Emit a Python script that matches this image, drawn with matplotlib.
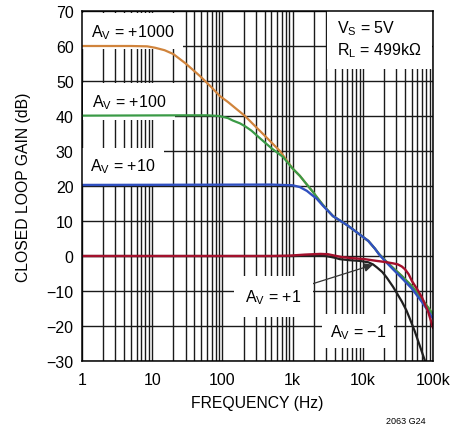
import matplotlib
matplotlib.use("Agg")
import matplotlib.pyplot as plt
from matplotlib.ticker import FixedLocator, FixedFormatter, NullFormatter

plt.rcParams['font.family'] = ['Liberation Sans', 'DejaVu Sans']
plt.rcParams['mathtext.fontset'] = 'custom'
plt.rcParams['mathtext.rm'] = 'Liberation Sans'
plt.rcParams['mathtext.it'] = 'Liberation Sans'

# closed loop gain curves (Hz, dB)
f_1000 = [1, 5, 8.5, 11, 15, 20, 30, 48, 70, 92, 120, 150, 210, 273, 400, 660, 1000, 1270,
          1600, 1950, 2200, 2700, 3760, 5900, 7700, 9100, 12000, 14900, 17000, 20700,
          27000, 36000, 50000, 70000, 100000]
g_1000 = [60, 60, 59.9, 59.5, 58.8, 57.7, 55.0, 51.4, 48.2, 45.7, 44.0, 42.4, 40.0, 37.7,
          34.4, 30.0, 25.0, 22.9, 20.4, 18.3, 16.9, 14.6, 11.4, 8.9, 7.2, 6.1, 4.3, 2.1, 0.6,
          -1.2, -3.4, -5.7, -8.6, -12.4, -16.6]

f_100 = [1, 30, 60, 90, 120, 141, 178, 213, 260, 345, 500, 730, 1000, 1270, 1600, 1950,
         2200, 2700, 3760, 5900, 7700, 9100, 12000, 14900, 17000, 20700, 27000, 36000,
         50000, 70000, 100000]
g_100 = [40.1, 40.2, 40.2, 40.0, 39.4, 38.7, 37.9, 37.0, 35.8, 33.6, 30.8, 28.3, 25.0,
         22.9, 20.4, 18.3, 16.9, 14.6, 11.4, 8.9, 7.2, 6.1, 4.3, 2.1, 0.6, -1.2, -3.4,
         -5.7, -8.6, -12.4, -16.6]

f_10 = [1, 500, 1000, 1270, 1600, 1950, 2200, 2700, 3760, 5900, 7700, 9100, 12000,
        14900, 17000, 20700, 27000, 36000, 50000, 70000, 100000]
g_10 = [20.3, 20.4, 20.2, 19.7, 18.6, 17.2, 16.4, 14.4, 11.4, 8.9, 7.2, 6.1, 4.3, 2.1,
        0.5, -1.4, -3.8, -6.3, -9.3, -13.2, -17.8]

f_p1 = [1, 100, 500, 900, 1500, 2500, 3200, 4000, 5000, 7000, 10700, 15800, 20700, 27000,
        31600, 36000, 40000, 45000, 50000, 60000, 70000, 85000, 100000]
g_p1 = [0, 0, 0, 0.1, 0.4, 0.6, 0.5, 0.1, -0.3, -0.6, -0.9, -1.4, -1.7, -2.1, -2.4, -3.0,
        -3.8, -5.2, -7.1, -9.6, -11.9, -15.8, -20.5]

f_m1 = [1, 1000, 2000, 3000, 4000, 4700, 6500, 9100, 12000, 14000, 16000, 19000, 22000,
        27000, 31000, 36000, 42000, 47000, 55000, 65000, 77000, 85000]
g_m1 = [0, 0, 0.1, 0, -0.5, -0.9, -1.2, -1.4, -1.8, -2.4, -3.3, -4.6, -6.2, -8.8, -10.8,
        -13.0, -15.6, -18.0, -21.5, -25.7, -30.0, -32.5]

x_ticks = [1, 10, 100, 1000, 10000, 100000]
x_labels = ['1', '10', '100', '1k', '10k', '100k']
y_ticks = [-30, -20, -10, 0, 10, 20, 30, 40, 50, 60, 70]

fig = plt.figure(figsize=(4.54, 4.27), dpi=100)
ax = fig.add_axes([0.1806, 0.1522, 0.7731, 0.8197])

ax.plot(f_1000, g_1000, color='#d0843c', lw=1.6, zorder=2)
ax.plot(f_100, g_100, color='#3a9a46', lw=1.6, zorder=2)
ax.plot(f_10, g_10, color='#3050c0', lw=1.7, zorder=2)
ax.plot(f_m1, g_m1, color='#202020', lw=1.6, zorder=2)
ax.plot(f_p1, g_p1, color='#a3102c', lw=1.7, zorder=2)

ax.set_xscale('log')
ax.set_xlim(1, 100000)
ax.set_ylim(-30, 70)
ax.xaxis.set_major_locator(FixedLocator(x_ticks))
ax.xaxis.set_major_formatter(FixedFormatter(x_labels))
ax.xaxis.set_minor_formatter(NullFormatter())
ax.set_yticks(y_ticks)
ax.set_yticklabels([str(v).replace('-', '\u2212') for v in y_ticks])

ax.set_axisbelow(True)
ax.grid(True, which='both', axis='x', color='#1a1a1a', lw=1.0)
ax.grid(True, which='major', axis='y', color='#1a1a1a', lw=1.0)
ax.tick_params(which='both', length=0, labelsize=11.5)
ax.tick_params(axis='x', pad=8)
ax.tick_params(axis='y', pad=6)
for s in ax.spines.values():
    s.set_linewidth(1.1)

ax.set_xlabel('FREQUENCY (Hz)', fontsize=11.3, labelpad=6)
ax.set_ylabel('CLOSED LOOP GAIN (dB)', fontsize=11.3, labelpad=11)

box = dict(boxstyle='square,pad=0.55', facecolor='white', edgecolor='none')
ax.text(1.34, 62.9, 'A$_\\mathrm{V}$ = +1000', fontsize=11.5, va='baseline', bbox=box, zorder=1.5)
ax.text(1.39, 42.8, 'A$_\\mathrm{V}$ = +100', fontsize=11.5, va='baseline', bbox=box, zorder=1.5)
ax.text(1.30, 24.4, 'A$_\\mathrm{V}$ = +10', fontsize=11.5, va='baseline', bbox=box, zorder=1.5)
ax.annotate('A$_\\mathrm{V}$ = +1', xy=(14000, -2.5), xytext=(210, -12.8), fontsize=11.5,
            va='baseline', bbox=dict(boxstyle='square,pad=0.7', facecolor='white', edgecolor='none'),
            arrowprops=dict(arrowstyle='-|>', color='#333333', lw=0.9, mutation_scale=13,
                            shrinkA=0, shrinkB=0),
            zorder=1.5)
ax.text(3400, -22.8, 'A$_\\mathrm{V}$ = \u22121', fontsize=11.5, va='baseline',
        bbox=dict(boxstyle='square,pad=0.5', facecolor='white', edgecolor='none'), zorder=1.5)
ax.text(4300, 57.7, 'V$_\\mathrm{S}$ = 5V\nR$_\\mathrm{L}$ = 499k\u03a9', fontsize=11.5,
        va='baseline', linespacing=1.2,
        bbox=dict(boxstyle='square,pad=0.65', facecolor='white', edgecolor='none'), zorder=1.5)

fig.text(0.937, 0.013, '2063 G24', fontsize=6.5, ha='right', va='center')

fig.savefig('out.png', dpi=100)
